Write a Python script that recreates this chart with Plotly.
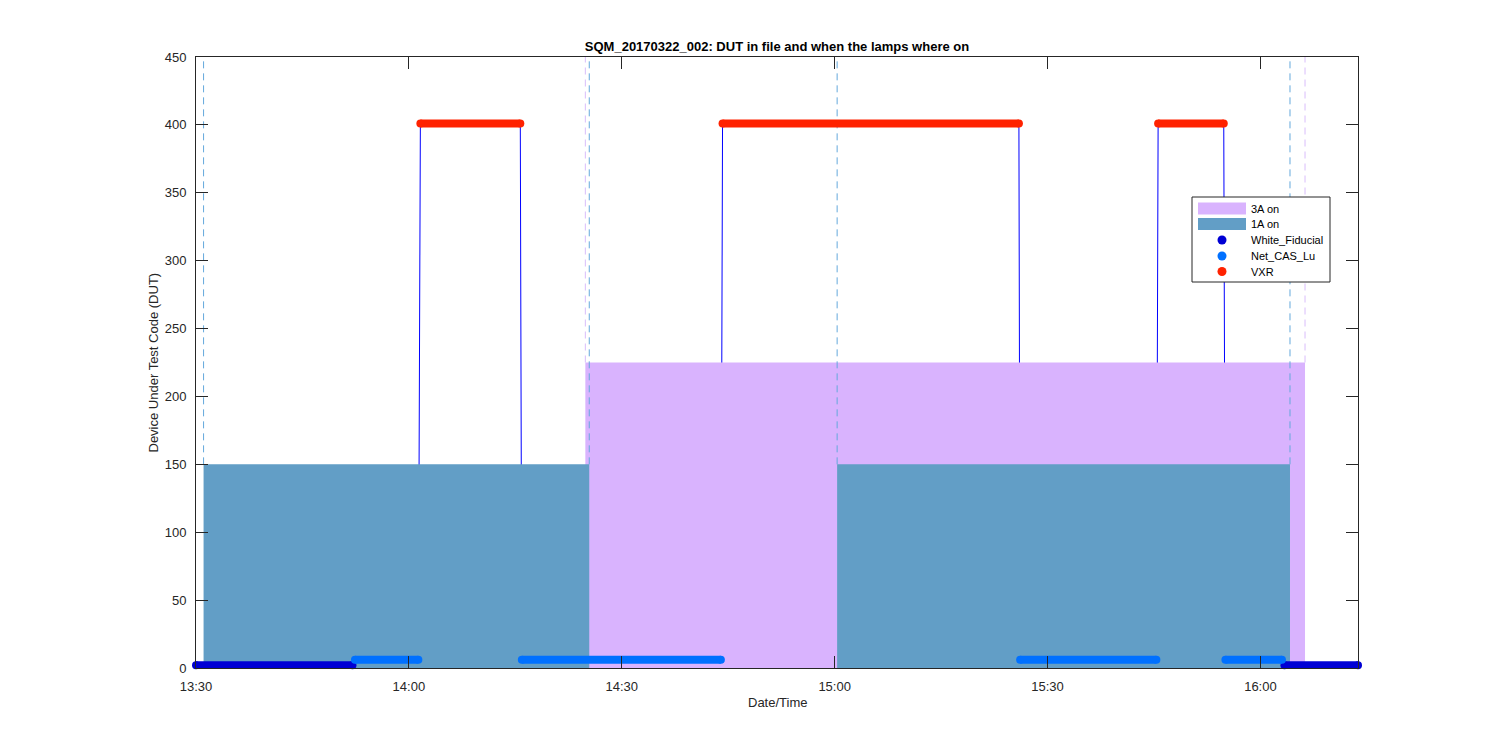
import plotly.graph_objects as go

DAY = "2017-03-22 "

# DUT segments (start, end) per category, DUT code value per category
wf_start = ["13:30:00", "16:03:23"]
wf_end = ["13:52:03", "16:13:45"]
wf_code = 2

nc_start = ["13:52:24", "14:15:55", "15:26:08", "15:55:04"]
nc_end = ["14:01:20", "14:43:58", "15:45:20", "16:03:02"]
nc_code = 6

vxr_start = ["14:01:37", "14:44:12", "15:45:35"]
vxr_end = ["14:15:42", "15:25:58", "15:54:50"]
vxr_code = 401

# Lamp on periods
lamp3a_start = ["14:24:52"]
lamp3a_end = ["16:06:17"]
lamp3a_level = 225

lamp1a_start = ["13:31:04", "15:00:21"]
lamp1a_end = ["14:25:25", "16:04:10"]
lamp1a_level = 150

x_range = ["13:30:00", "16:13:45"]
y_range = [0, 450]
x_ticks = ["13:30", "14:00", "14:30", "15:00", "15:30", "16:00"]
y_ticks = [0, 50, 100, 150, 200, 250, 300, 350, 400, 450]

legend_names = ["3A on", "1A on", "White_Fiducial", "Net_CAS_Lu", "VXR"]

C_WF = "#0000d4"
C_NC = "#0070ff"
C_VXR = "#ff2200"
C_3A = "#d9b3fe"
C_1A = "#629ec6"
C_3A_DASH = "#d9bdfb"
C_1A_DASH = "#64a8dc"
AX = "#262626"
FONT = "Liberation Sans, Arial, sans-serif"

# page body has an 8px offset; target plot area: x 196..1358, y 57..668
OFF = 8
PX0, PX1, PY0, PY1 = 196, 1358, 57, 668
PW, PH = PX1 - PX0, PY1 - PY0


def t(s):
    return DAY + s


def px(x):
    return (x - PX0) / PW


def py(y):
    return (PY1 - y) / PH


fig = go.Figure()

# DUT line (chronological)
segs = []
for s, e in zip(wf_start, wf_end):
    segs.append((s, e, wf_code))
for s, e in zip(nc_start, nc_end):
    segs.append((s, e, nc_code))
for s, e in zip(vxr_start, vxr_end):
    segs.append((s, e, vxr_code))
segs.sort(key=lambda z: z[0])
lx, ly = [], []
for s, e, v in segs:
    lx += [t(s), t(e)]
    ly += [v, v]
fig.add_trace(go.Scatter(x=lx, y=ly, mode="lines", line=dict(color="#0000ff", width=1),
                         showlegend=False, hoverinfo="skip"))


def area_trace(starts, ends, level, color, name):
    xs, ys = [], []
    for s, e in zip(starts, ends):
        xs += [t(s), t(s), t(e), t(e), None]
        ys += [0, level, level, 0, None]
    return go.Scatter(x=xs, y=ys, mode="lines", fill="toself", fillcolor=color,
                      line=dict(width=0, color=color), name=name, showlegend=False)


fig.add_trace(area_trace(lamp3a_start, lamp3a_end, lamp3a_level, C_3A, legend_names[0]))


def dash_trace(times, ybottom, color):
    xs, ys = [], []
    for tt in times:
        xs += [t(tt), t(tt), None]
        ys += [ybottom, y_range[1], None]
    return go.Scatter(x=xs, y=ys, mode="lines", line=dict(color=color, width=1, dash="7px,5px"),
                      showlegend=False, hoverinfo="skip")


# dashed lines mark the on/off instants (hidden behind the 1A area below its level)
fig.add_trace(dash_trace(lamp3a_start + lamp3a_end, lamp3a_level, C_3A_DASH))
fig.add_trace(dash_trace(lamp1a_start + lamp1a_end, lamp1a_level, C_1A_DASH))

fig.add_trace(area_trace(lamp1a_start, lamp1a_end, lamp1a_level, C_1A, legend_names[1]))


def cat_trace(starts, ends, code, color, name):
    xs, ys = [], []
    for s, e in zip(starts, ends):
        xs += [t(s), t(e), None]
        ys += [code, code, None]
    return go.Scatter(x=xs, y=ys, mode="lines+markers", line=dict(color=color, width=8),
                      marker=dict(color=color, size=8, line=dict(width=0)),
                      showlegend=False, name=name, cliponaxis=False)


fig.add_trace(cat_trace(wf_start, wf_end, wf_code, C_WF, legend_names[2]))
fig.add_trace(cat_trace(nc_start, nc_end, nc_code, C_NC, legend_names[3]))
fig.add_trace(cat_trace(vxr_start, vxr_end, vxr_code, C_VXR, legend_names[4]))

# custom legend (MATLAB style box)
shapes = [dict(type="rect", xref="paper", yref="paper", x0=px(1192), x1=px(1330),
               y0=py(282), y1=py(197), fillcolor="white", line=dict(color=AX, width=1),
               layer="above")]
annotations = []
entry_y = [208.5, 224, 240, 256, 271.5]
entry_colors = [C_3A, C_1A, C_WF, C_NC, C_VXR]
for i, (name, yc, col) in enumerate(zip(legend_names, entry_y, entry_colors)):
    if i < 2:
        shapes.append(dict(type="rect", xref="paper", yref="paper", x0=px(1198), x1=px(1246),
                           y0=py(yc + 6), y1=py(yc - 6), fillcolor=col, line=dict(width=0),
                           layer="above"))
    else:
        shapes.append(dict(type="circle", xref="paper", yref="paper", x0=px(1217.5), x1=px(1226.5),
                           y0=py(yc + 4.5), y1=py(yc - 4.5), fillcolor=col, line=dict(width=0),
                           layer="above"))
    annotations.append(dict(text=name, xref="paper", yref="paper", x=px(1249), y=py(yc),
                            xanchor="left", yanchor="middle", showarrow=False,
                            font=dict(family=FONT, size=11, color="black")))

annotations += [
    dict(text="Date/Time", xref="paper", yref="paper", x=0.5, y=py(702),
         xanchor="center", yanchor="middle", showarrow=False,
         font=dict(family=FONT, size=13, color=AX)),
    dict(text="Device Under Test Code (DUT)", xref="paper", yref="paper",
         x=px(153), y=0.5, textangle=-90, xanchor="center",
         yanchor="middle", showarrow=False, font=dict(family=FONT, size=13, color=AX)),
]

axis_common = dict(showline=True, linecolor=AX, linewidth=1, mirror="ticks", ticks="inside",
                   ticklen=12, tickcolor=AX, tickwidth=1, showgrid=False, zeroline=False,
                   tickfont=dict(family=FONT, size=13, color=AX))

fig.update_layout(
    width=1500, height=750,
    paper_bgcolor="white", plot_bgcolor="white",
    margin=dict(l=PX0 - OFF, r=1500 - PX1 + OFF, t=PY0 - OFF, b=750 - PY1 + OFF),
    font=dict(family=FONT, color=AX),
    xaxis=dict(range=[t(x_range[0]), t(x_range[1])], type="date",
               tickvals=[t(v + ":00") for v in x_ticks], ticktext=x_ticks,
               ticklabelstandoff=6, **axis_common),
    yaxis=dict(range=y_range, tickvals=y_ticks, ticklabelstandoff=6, **axis_common),
    title=dict(text="<b>SQM_20170322_002: DUT in file and when the lamps where on</b>",
               x=0.5, xref="paper", xanchor="center", y=(750 - (46 - OFF)) / 750, yref="container",
               yanchor="middle", font=dict(family=FONT, size=13, color="black")),
    showlegend=False,
    shapes=shapes,
    annotations=annotations,
)

fig.write_html("out.html")
